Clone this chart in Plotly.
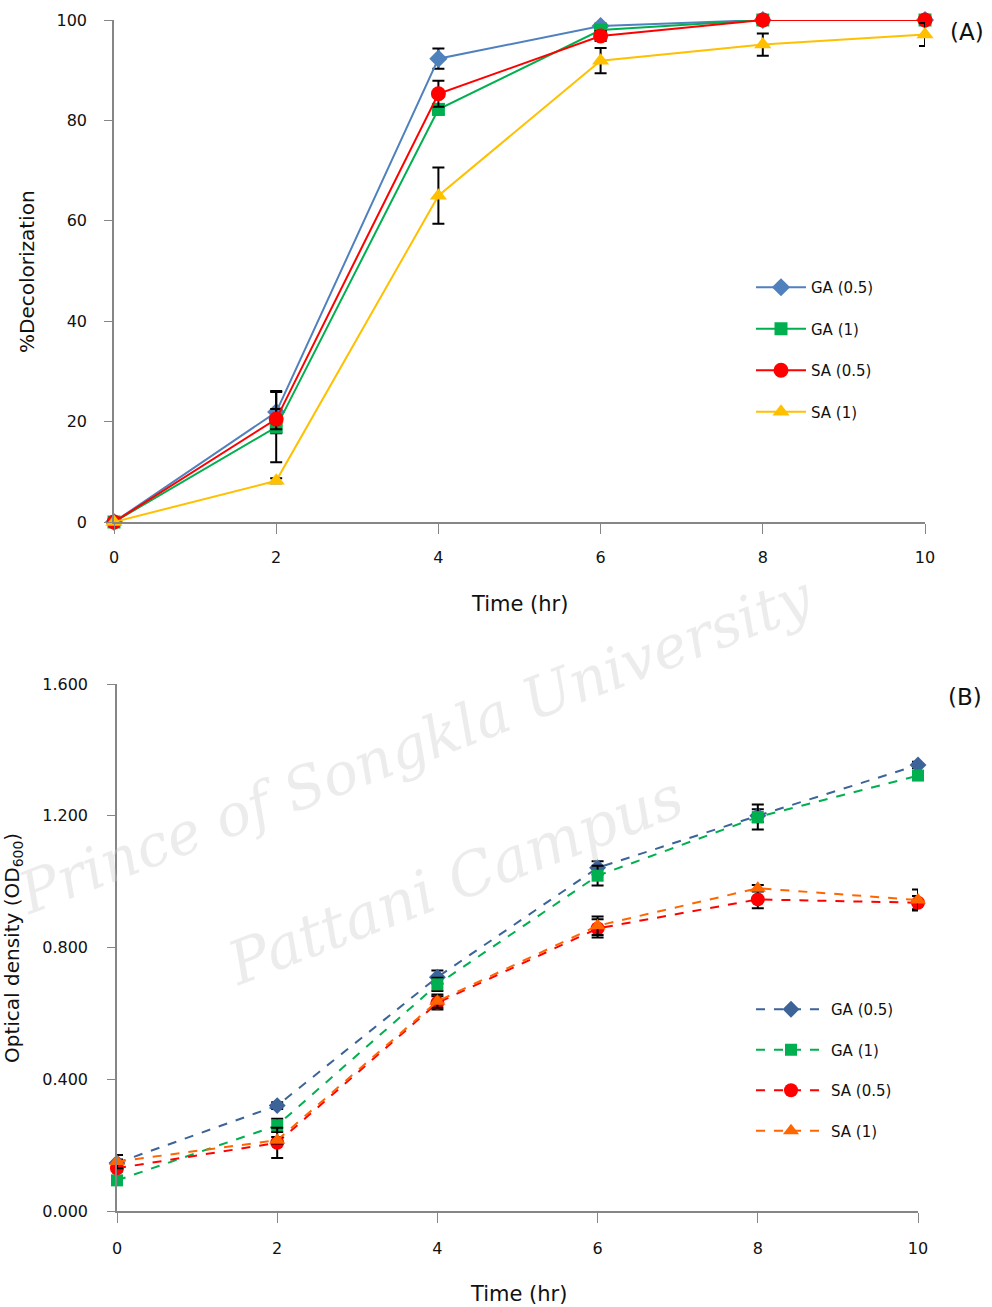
import plotly.graph_objects as go

time_hr = [0, 2, 4, 6, 8, 10]
series_names = ["GA (0.5)", "GA (1)", "SA (0.5)", "SA (1)"]

# Panel A: %Decolorization
dec_ga05 = [0, 21.9, 92.3, 98.8, 100, 100]
dec_ga1 = [0, 18.9, 82.2, 98.0, 100, 100]
dec_sa05 = [0, 20.5, 85.3, 96.8, 100, 100]
dec_sa1 = [0, 8.2, 65.0, 91.9, 95.1, 97.1]
dec_err_ga05 = [0, 4.2, 2.0, 0.5, 0, 0]
dec_err_ga1 = [0, 7.0, 1.0, 0.5, 0, 0]
dec_err_sa05 = [0, 2.0, 2.6, 1.0, 0, 0]
dec_err_sa1 = [0, 0.5, 5.6, 2.5, 2.2, 2.3]

# Panel B: optical density OD600
od_ga05 = [0.146, 0.320, 0.710, 1.042, 1.200, 1.354]
od_ga1 = [0.093, 0.260, 0.688, 1.018, 1.196, 1.322]
od_sa05 = [0.130, 0.207, 0.632, 0.858, 0.946, 0.936]
od_sa1 = [0.150, 0.215, 0.637, 0.866, 0.980, 0.944]
od_err_ga05 = [0.01, 0.01, 0.02, 0.02, 0.02, 0.01]
od_err_ga1 = [0.01, 0.02, 0.02, 0.03, 0.038, 0.01]
od_err_sa05 = [0.01, 0.046, 0.02, 0.028, 0.027, 0.02]
od_err_sa1 = [0.02, 0.01, 0.02, 0.028, 0.01, 0.032]

x_ticks = [0, 2, 4, 6, 8, 10]
yA_ticks = [0, 20, 40, 60, 80, 100]
yB_ticks = [0.0, 0.4, 0.8, 1.2, 1.6]

W, H = 992, 1307
FONT = "DejaVu Sans"
def px(x):
    return x / W
def py(y):
    return 1 - y / H

fig = go.Figure()

colA = ["#4F81BD", "#00B050", "#FF0000", "#FFC000"]
colB = ["#3C6498", "#00B050", "#FF0000", "#FF6600"]
symbols = ["diamond", "square", "circle", "triangle-up"]
msizes = [14, 13, 15, 15]

A_vals = [dec_ga05, dec_ga1, dec_sa05, dec_sa1]
A_errs = [dec_err_ga05, dec_err_ga1, dec_err_sa05, dec_err_sa1]
B_vals = [od_ga05, od_ga1, od_sa05, od_sa1]
B_errs = [od_err_ga05, od_err_ga1, od_err_sa05, od_err_sa1]

for i in range(4):
    fig.add_trace(go.Scatter(
        x=time_hr, y=A_vals[i], name=series_names[i], mode="lines+markers",
        line=dict(color=colA[i], width=2),
        marker=dict(symbol=symbols[i], size=msizes[i], color=colA[i]),
        error_y=dict(type="data", array=A_errs[i], color="black", thickness=2, width=6),
        cliponaxis=False, xaxis="x", yaxis="y", legend="legend", legendgroup="a%d" % i,
    ))
for i in range(4):
    fig.add_trace(go.Scatter(
        x=time_hr, y=B_vals[i], name=series_names[i], mode="lines+markers",
        line=dict(color=colB[i], width=2, dash="dash"),
        marker=dict(symbol=symbols[i], size=msizes[i] - 1, color=colB[i]),
        error_y=dict(type="data", array=B_errs[i], color="black", thickness=2, width=6),
        cliponaxis=False, xaxis="x2", yaxis="y2", legend="legend2", legendgroup="b%d" % i,
    ))

axis_common = dict(showgrid=False, zeroline=False, showline=True, linecolor="#868686",
                   linewidth=1.5, ticks="outside", tickcolor="#868686", automargin=False,
                   tickfont=dict(family=FONT, size=16, color="#111111"))

fig.update_layout(
    width=W, height=H, margin=dict(l=0, r=0, t=0, b=0, autoexpand=False),
    paper_bgcolor="white", plot_bgcolor="rgba(0,0,0,0)",
    font=dict(family=FONT),
    xaxis=dict(domain=[px(114), px(925)], anchor="y", range=[0, 10], tickvals=x_ticks,
               ticklen=10, ticklabelstandoff=10, **axis_common),
    yaxis=dict(domain=[py(522), py(20)], anchor="x", range=[0, 100], tickvals=yA_ticks,
               ticklen=8, ticklabelstandoff=14, **axis_common),
    xaxis2=dict(domain=[px(117), px(918)], anchor="y2", range=[0, 10], tickvals=x_ticks,
                ticklen=10, ticklabelstandoff=12, **axis_common),
    yaxis2=dict(domain=[py(1211), py(684)], anchor="x2", range=[0, 1.6], tickvals=yB_ticks,
                tickformat=".3f", ticklen=8, ticklabelstandoff=16, **axis_common),
    legend=dict(x=px(751), y=py(271), xanchor="left", yanchor="top",
                font=dict(family=FONT, size=15, color="#111111"),
                tracegroupgap=19, itemwidth=50, bgcolor="rgba(0,0,0,0)"),
    legend2=dict(x=px(751), y=py(993), xanchor="left", yanchor="top",
                 font=dict(family=FONT, size=15, color="#111111"),
                 tracegroupgap=18, itemwidth=70, bgcolor="rgba(0,0,0,0)"),
)

ann = [
    dict(text="Time (hr)", x=px(519), y=py(604), font=dict(family=FONT, size=21, color="#111111")),
    dict(text="Time (hr)", x=px(518), y=py(1294), font=dict(family=FONT, size=21, color="#111111")),
    dict(text="%Decolorization", x=px(27), y=py(272), textangle=-90,
         font=dict(family=FONT, size=20, color="#111111")),
    dict(text="Optical density (OD<sub>600</sub>)", x=px(13), y=py(948), textangle=-90,
         font=dict(family=FONT, size=20, color="#111111")),
    dict(text="(A)", x=px(967), y=py(32), font=dict(family=FONT, size=23, color="#111111")),
    dict(text="(B)", x=px(965), y=py(697), font=dict(family=FONT, size=23, color="#111111")),
]
for a in ann:
    fig.add_annotation(xref="paper", yref="paper", showarrow=False,
                       xanchor="center", yanchor="middle", **a)

# faint watermark
fig.add_annotation(xref="paper", yref="paper", showarrow=False, xanchor="center", yanchor="middle",
                   text="<i>Prince of Songkla University</i>", x=px(415), y=py(745),
                   textangle=-21, font=dict(family="DejaVu Serif", size=58, color="rgba(200,200,200,0.35)"))
fig.add_annotation(xref="paper", yref="paper", showarrow=False, xanchor="center", yanchor="middle",
                   text="<i>Pattani Campus</i>", x=px(455), y=py(880),
                   textangle=-21, font=dict(family="DejaVu Serif", size=60, color="rgba(200,200,200,0.35)"))

fig.write_html("out.html")
